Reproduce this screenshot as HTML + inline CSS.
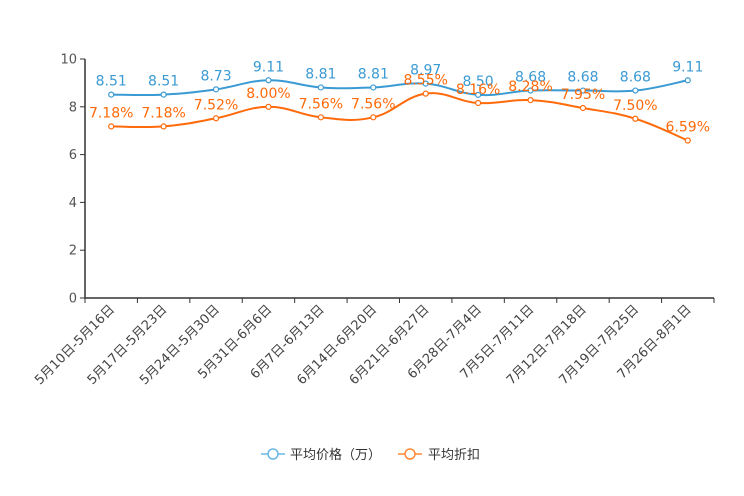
<!DOCTYPE html>
<html><head><meta charset="utf-8"><style>
html,body{margin:0;padding:0;background:#fff}
svg{display:block;font-family:"DejaVu Sans","Noto Sans CJK SC",sans-serif}
</style></head><body>
<svg id="chart" width="744" height="496" viewBox="0 0 744 496" xmlns="http://www.w3.org/2000/svg"></svg>
<script>
const categories=["5月10日-5月16日","5月17日-5月23日","5月24日-5月30日","5月31日-6月6日","6月7日-6月13日","6月14日-6月20日","6月21日-6月27日","6月28日-7月4日","7月5日-7月11日","7月12日-7月18日","7月19日-7月25日","7月26日-8月1日"];
const priceValues=[8.51,8.51,8.73,9.11,8.81,8.81,8.97,8.50,8.68,8.68,8.68,9.11];
const discountValues=[7.18,7.18,7.52,8.00,7.56,7.56,8.55,8.16,8.28,7.95,7.50,6.59];
const yTicks=[0,2,4,6,8,10];
const NS="http://www.w3.org/2000/svg";
const svg=document.getElementById('chart');
const X0=85,X1=714,Y0=298,Y1=59;
const bw=(X1-X0)/categories.length;
const xPos=i=>X0+bw*(i+0.5);
const yPos=v=>Y0-(v/10)*(Y0-Y1);
function mk(t,a,p){const e=document.createElementNS(NS,t);for(const k in a)e.setAttribute(k,a[k]);(p||svg).appendChild(e);return e;}
const ya=mk('line',{x1:X0,y1:Y1,x2:X0,y2:Y0,stroke:'#333','stroke-width':1.5});


yTicks.forEach(v=>{
 const t=mk('line',{x1:X0-5,y1:yPos(v),x2:X0,y2:yPos(v),stroke:'#333'});
 
 
 const l=mk('text',{x:X0-8,y:yPos(v)+4.5,'text-anchor':'end','font-size':13,fill:'#555'});
 l.textContent=v;
 
 
});
const xa=mk('line',{x1:X0,y1:Y0,x2:X1,y2:Y0,stroke:'#333','stroke-width':1.5});


for(let i=0;i<=categories.length;i++){
 const t=mk('line',{x1:X0+bw*i,y1:Y0,x2:X0+bw*i,y2:Y0+5,stroke:'#333'});
 
 
}
categories.forEach((c,i)=>{
 const x=xPos(i)+4,y=Y0+12;
 const l=mk('text',{x:x,y:y,'text-anchor':'end','font-size':13,fill:'#444',transform:`rotate(-45 ${x} ${y})`});
 l.textContent=c;
 
 
});
function smooth(pts){
 let d=`M${pts[0][0]},${pts[0][1]}`;
 const s=0.2;
 for(let i=0;i<pts.length-1;i++){
  const p0=pts[i-1]||pts[i],p1=pts[i],p2=pts[i+1],p3=pts[i+2]||p2;
  d+=` C${p1[0]+(p2[0]-p0[0])*s},${p1[1]+(p2[1]-p0[1])*s} ${p2[0]-(p3[0]-p1[0])*s},${p2[1]-(p3[1]-p1[1])*s} ${p2[0]},${p2[1]}`;
 }
 return d;
}
function series(vals,color,name,fmt){
 const pts=vals.map((v,i)=>[xPos(i),yPos(v)]);
 const p=mk('path',{d:smooth(pts),fill:'none',stroke:color,'stroke-width':2});
 
 
 pts.forEach((q,i)=>{
  const c=mk('circle',{cx:q[0],cy:q[1],r:2.5,fill:'#fff',stroke:color,'stroke-width':1.2});
  
  
  const t=mk('text',{x:q[0],y:q[1]-9,'text-anchor':'middle','font-size':14,fill:color});
  t.textContent=fmt(vals[i]);
  
  
 });
}
series(priceValues,'#3a9ad3','price',v=>v.toFixed(2));
series(discountValues,'#ff6a0a','discount',v=>v.toFixed(2)+'%');
</script>
<svg style="position:absolute;left:0;top:0" width="744" height="496">
 <g>
  <line x1="261" y1="454" x2="285" y2="454" stroke="#6bb7e3" stroke-width="1.5"/>
  <circle cx="273" cy="454" r="5" fill="#fff" stroke="#6bb7e3" stroke-width="1.5"/>
  <text x="290" y="459" font-size="13" fill="#333" font-family="Noto Sans CJK SC, sans-serif">平均价格（万）</text>
 </g>
 <g>
  <line x1="398" y1="454" x2="422" y2="454" stroke="#ff8a3a" stroke-width="1.5"/>
  <circle cx="410" cy="454" r="5" fill="#fff" stroke="#ff8a3a" stroke-width="1.5"/>
  <text x="428" y="459" font-size="13" fill="#333" font-family="Noto Sans CJK SC, sans-serif">平均折扣</text>
 </g>
</svg>
</body></html>
